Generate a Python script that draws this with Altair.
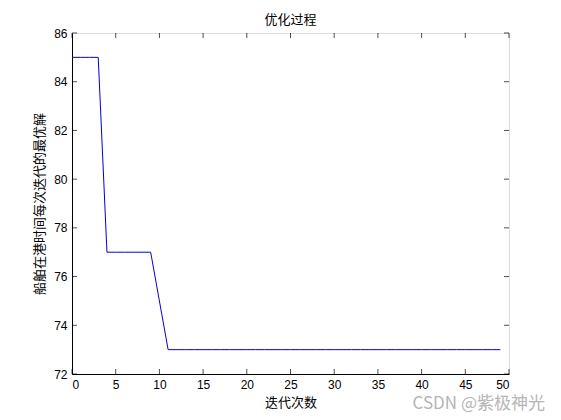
import pandas as pd
import altair as alt

# iteration index and best berthing time found at each iteration
iters = [0, 1, 2, 3, 4, 5, 6, 7, 8, 9, 10, 11, 12, 13, 14, 15, 16, 17, 18, 19,
         20, 21, 22, 23, 24, 25, 26, 27, 28, 29, 30, 31, 32, 33, 34, 35, 36, 37, 38, 39,
         40, 41, 42, 43, 44, 45, 46, 47, 48, 49]
best = [85, 85, 85, 85, 77, 77, 77, 77, 77, 77, 75, 73, 73, 73, 73, 73, 73, 73, 73, 73,
        73, 73, 73, 73, 73, 73, 73, 73, 73, 73, 73, 73, 73, 73, 73, 73, 73, 73, 73, 73,
        73, 73, 73, 73, 73, 73, 73, 73, 73, 73]

x_ticks = [0, 5, 10, 15, 20, 25, 30, 35, 40, 45, 50]
y_ticks = [72, 74, 76, 78, 80, 82, 84, 86]

df = pd.DataFrame({"iter": iters, "best": best})
xt = pd.DataFrame({"v": x_ticks})
yt = pd.DataFrame({"v": y_ticks})

label_font = "Liberation Sans"
cjk = "Noto Sans CJK SC"

xs = alt.Scale(domain=[0, 50], nice=False)
ys = alt.Scale(domain=[72, 86], nice=False)

line = alt.Chart(df).mark_line(color="#0000dd", strokeWidth=1).encode(
    x=alt.X("iter:Q", scale=xs, title="迭代次数",
            axis=alt.Axis(values=x_ticks, tickSize=0, labelPadding=5, grid=False,
                          domainColor="black", labelColor="black", labelFont=label_font,
                          labelFontSize=12, titleFont=cjk, titleFontSize=13,
                          titleFontWeight="normal", titleColor="black", titlePadding=6)),
    y=alt.Y("best:Q", scale=ys, title="船舶在港时间每次迭代的最优解",
            axis=alt.Axis(values=y_ticks, tickSize=0, labelPadding=5, grid=False,
                          domainColor="black", labelColor="black", labelFont=label_font,
                          labelFontSize=12, titleFont=cjk, titleFontSize=13,
                          titleFontWeight="normal", titleColor="black", titlePadding=7)),
)

# MATLAB-style inward ticks on all four sides
tick_style = dict(color="black", thickness=1, size=5)
bottom_ticks = alt.Chart(xt).mark_tick(orient="vertical", yOffset=-2.5, **tick_style).encode(
    x=alt.X("v:Q", scale=xs), y=alt.datum(72, scale=ys))
top_ticks = alt.Chart(xt).mark_tick(orient="vertical", yOffset=2.5, **tick_style).encode(
    x=alt.X("v:Q", scale=xs), y=alt.datum(86, scale=ys))
left_ticks = alt.Chart(yt).mark_tick(orient="horizontal", xOffset=2.5, **tick_style).encode(
    y=alt.Y("v:Q", scale=ys), x=alt.datum(0, scale=xs))
right_ticks = alt.Chart(yt).mark_tick(orient="horizontal", xOffset=-2.5, **tick_style).encode(
    y=alt.Y("v:Q", scale=ys), x=alt.datum(50, scale=xs))

watermark = alt.Chart(pd.DataFrame({"t": ["CSDN @紫极神光"]})).mark_text(
    align="right", baseline="middle", font=cjk, fontSize=17, color="#b5b5b5"
).encode(x=alt.value(473), y=alt.value(371), text="t:N")

chart = alt.layer(line, bottom_ticks, top_ticks, left_ticks, right_ticks, watermark).properties(
    width=437,
    height=341,
    title=alt.Title("优化过程", font=cjk, fontSize=13, fontWeight="normal", color="black", offset=0),
    autosize=alt.AutoSizeParams(type="none"),
    padding={"left": 64, "top": 25, "right": 44, "bottom": 38},
).configure_view(stroke="black", strokeWidth=1).configure(background="white")

chart.save("out.html", embed_options={"renderer": "svg", "actions": False})
